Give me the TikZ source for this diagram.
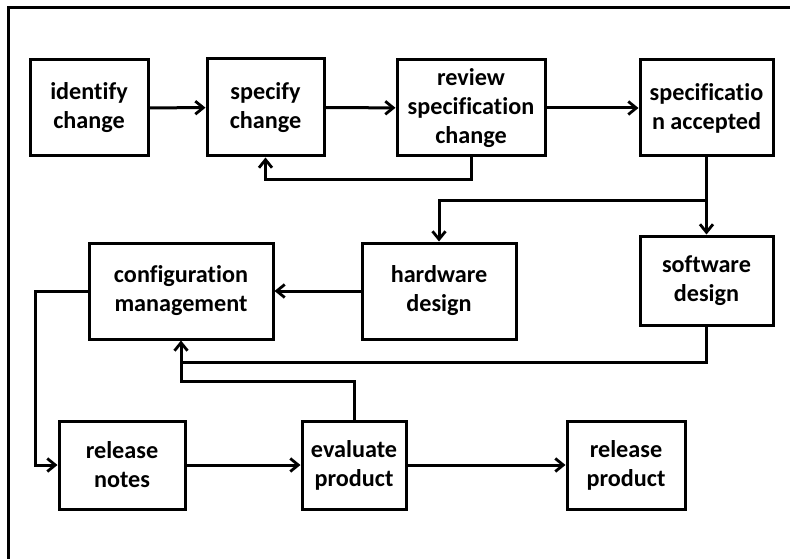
\documentclass[tikz,border=0pt]{standalone}
\usepackage{fontspec}
\setmainfont{Carlito}[Ligatures=NoCommon]
\usetikzlibrary{arrows.meta}
\begin{document}
\begin{tikzpicture}[x=1pt,y=-1pt,
  box/.style={draw, line width=3pt, inner sep=0pt, align=center,
    font=\bfseries\fontsize{24.2}{29}\selectfont},
  conn/.style={line width=3pt},
  arr/.style={conn, -{Straight Barb[length=8pt,width=13pt,line width=2.8pt]}}]
\useasboundingbox (0,0) rectangle (790,559);
% frame
\draw[line width=3pt] (8,559) -- (8,8) -- (790,8);

% process steps
\node[box, minimum width=118, minimum height=96] (idc) at (89,108) {identify\\change};
\node[box, minimum width=117, minimum height=97] (spc) at (265.5,107.5) {specify\\change};
\node[box, minimum width=148, minimum height=96] (rsc) at (471,108) {review\\specification\\change};
\node[box, minimum width=133, minimum height=96] (sa) at (706.5,108) {specificatio\\n accepted};
\node[box, minimum width=154, minimum height=96] (hw) at (439,291) {hardware\\design};
\node[box, minimum width=133, minimum height=89] (sw) at (706.5,280.5) {software\\design};
\node[box, minimum width=184, minimum height=96] (cm) at (181,291) {configuration\\management};
\node[box, minimum width=126, minimum height=88] (rn) at (122,465) {release\\notes};
\node[box, minimum width=104, minimum height=88] (ep) at (354,465) {evaluate\\product};
\node[box, minimum width=118, minimum height=88] (rp) at (626,465) {release\\product};

% routing points
\coordinate (fork) at (706.5,200);
\coordinate (merge) at (181,362);
\coordinate (join) at (181,381);

% connectors
\draw[arr] (idc) -- (spc);
\draw[arr] (spc) -- (rsc);
\draw[arr] (rsc) -- (sa);
\draw[arr] (rsc.south) -- ++(0,22) -| (spc.south);
\draw[arr] (sa.south) -- (sw.north);
\draw[arr] (fork) -| (hw.north);
\draw[arr] (hw.west) -- (cm.east);
\draw[conn] (ep.north) |- (join) -- (merge);
\draw[arr] (sw.south) |- (merge) -- (cm.south);
\draw[arr] (cm.west) -- ++(-52,0) |- (rn.west);
\draw[arr] (rn) -- (ep);
\draw[arr] (ep) -- (rp);
\end{tikzpicture}
\end{document}
